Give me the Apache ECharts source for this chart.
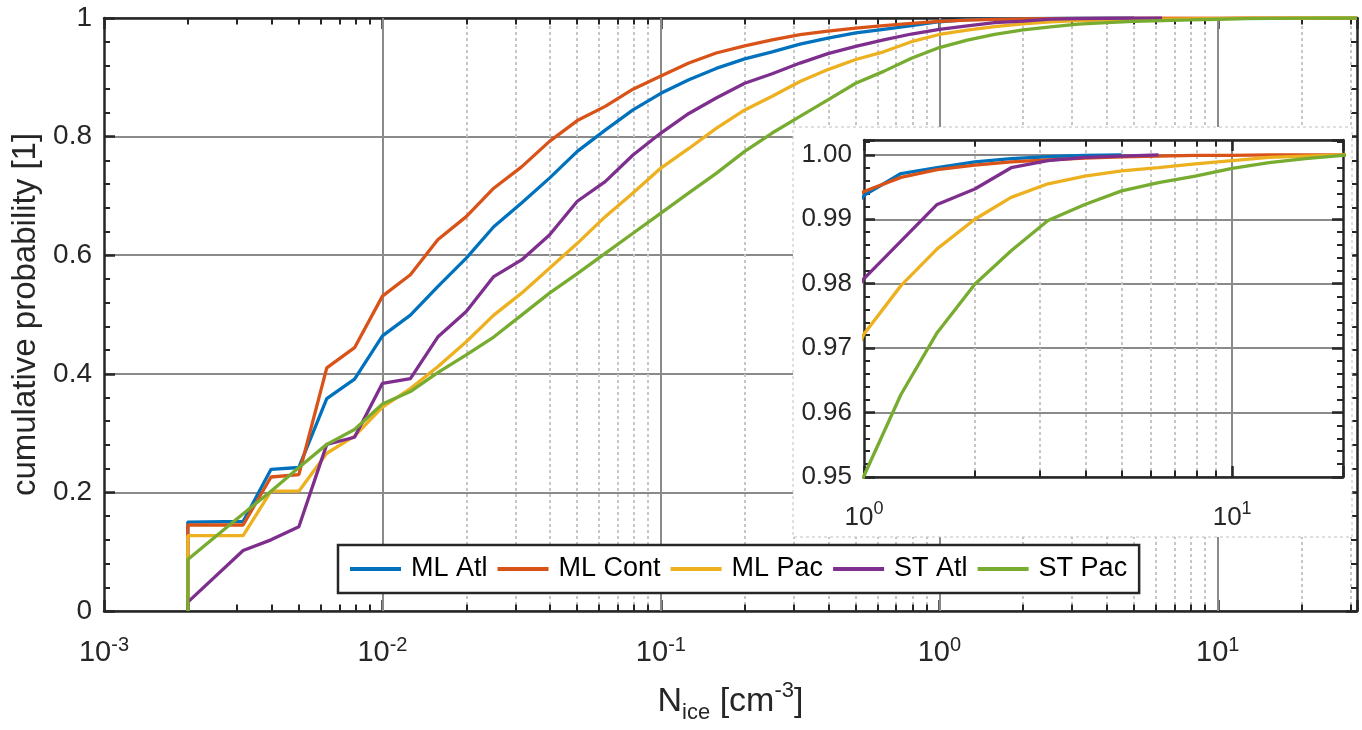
<!DOCTYPE html>
<html>
<head>
<meta charset="utf-8">
<script src="https://cdn.jsdelivr.net/npm/echarts@6/dist/echarts.min.js"></script>
<style>
  html, body { margin: 0; padding: 0; background: #fff; }
  #chart { width: 1362px; height: 730px; }
</style>
</head>
<body>
<div id="chart"></div>
<script>
// N_ice bin positions [cm^-3] (first point doubled: curves rise from 0 at the first bin)
var nIce = [0.002, 0.002, 0.00316, 0.00398, 0.00501, 0.00631, 0.00794,
    0.01, 0.0126, 0.0158, 0.02, 0.0251, 0.0316, 0.0398, 0.0501, 0.0631, 0.0794,
    0.1, 0.126, 0.158, 0.2, 0.251, 0.316, 0.398, 0.501, 0.631, 0.794,
    1, 1.26, 1.58, 2, 2.51, 3.16, 3.98, 5.01, 6.31, 7.94,
    10, 12.6, 15.8, 20, 25.1, 31.6];

var mlAtl = [0, 0.150, 0.151, 0.239, 0.242, 0.358, 0.391,
    0.464, 0.499, 0.547, 0.595, 0.648, 0.688, 0.730, 0.775, 0.811, 0.845,
    0.873, 0.896, 0.915, 0.931, 0.943, 0.956, 0.966, 0.975, 0.981, 0.987,
    0.9937, 0.9971, 0.9980, 0.9989, 0.9994, 0.9997, 0.9999, 1.0, null, null,
    null, null, null, null, null, null];
var mlCont = [0, 0.145, 0.145, 0.226, 0.230, 0.410, 0.444,
    0.531, 0.567, 0.626, 0.665, 0.713, 0.749, 0.792, 0.827, 0.851, 0.880,
    0.902, 0.924, 0.941, 0.953, 0.963, 0.972, 0.978, 0.983, 0.987, 0.991,
    0.9943, 0.9965, 0.9977, 0.9984, 0.9989, 0.9992, 0.9995, 0.9997, 0.9998, 0.9999,
    0.9999, 1.0, 1.0, 1.0, 1.0, 1.0];
var mlPac = [0, 0.127, 0.127, 0.202, 0.202, 0.266, 0.295,
    0.344, 0.375, 0.412, 0.454, 0.499, 0.536, 0.578, 0.620, 0.665, 0.705,
    0.747, 0.780, 0.814, 0.845, 0.868, 0.893, 0.913, 0.930, 0.943, 0.960,
    0.9722, 0.9797, 0.9854, 0.9900, 0.9934, 0.9955, 0.9967, 0.9975, 0.9980, 0.9986,
    0.9991, 0.9996, 0.9998, 1.0, 1.0, 1.0];
var stAtl = [0, 0.015, 0.102, 0.120, 0.142, 0.281, 0.293,
    0.384, 0.392, 0.462, 0.505, 0.564, 0.592, 0.634, 0.691, 0.724, 0.769,
    0.806, 0.839, 0.865, 0.890, 0.906, 0.924, 0.940, 0.952, 0.963, 0.973,
    0.9808, 0.9866, 0.9923, 0.9947, 0.9980, 0.9991, 0.9996, 0.9998, 1.0, null,
    null, null, null, null, null, null];
var stPac = [0, 0.087, 0.164, 0.202, 0.242, 0.281, 0.306,
    0.349, 0.370, 0.402, 0.432, 0.462, 0.499, 0.536, 0.569, 0.603, 0.637,
    0.671, 0.705, 0.738, 0.775, 0.806, 0.834, 0.862, 0.890, 0.910, 0.932,
    0.9502, 0.9628, 0.9724, 0.9799, 0.9851, 0.9898, 0.9923, 0.9944, 0.9957, 0.9967,
    0.9979, 0.9988, 0.9994, 0.9999, 1.0, 1.0];

var names = ['ML Atl', 'ML Cont', 'ML Pac', 'ST Atl', 'ST Pac'];
var colors = ['#0072BD', '#D95319', '#EDB120', '#7E2F8E', '#77AC30'];
var groups = [mlAtl, mlCont, mlPac, stAtl, stPac];

// x range of the main panel (log axis), the right edge is cut by the picture
var mainMin = 0.001, mainMax = 31.6227766;
var insetMin = 1, insetMax = 20;
var decades = [0.001, 0.01, 0.1, 1, 10];

// minor log grid positions
var mainMinor = [], insetMinor = [];
decades.forEach(function (d) {
    for (var k = 2; k <= 9; k++) {
        var v = +(k * d).toPrecision(3);
        if (v < mainMax) mainMinor.push(v);
        if (v > insetMin && v < 10) insetMinor.push(v);
    }
});

var FONT = 'Liberation Sans, Arial, Helvetica, sans-serif';
var INK = '#262626';
var GRID = '#8a8a8a';
var DOT = '#c6c6c6';

function pairs(vals) {
    var out = [];
    for (var i = 0; i < nIce.length; i++) {
        if (vals[i] !== null) out.push([nIce[i], vals[i]]);
    }
    return out;
}

function powLabel(v) {
    var e = Math.log10(v);
    var r = Math.round(e);
    if (Math.abs(e - r) > 1e-6) return '';
    return '{b|10}{s|' + r + '}';
}

function logAxis(grid, min, max, pos, labels, size, margin, z) {
    return {
        type: 'log', logBase: 10, gridIndex: grid, min: min, max: max, position: pos, z: z,
        axisLine: {show: true, onZero: false, lineStyle: {color: INK, width: 2.5}},
        axisTick: {show: true, inside: true, length: 11, lineStyle: {color: INK, width: 2.5}},
        splitLine: {show: false},
        axisLabel: {
            show: labels, margin: margin, formatter: powLabel, color: INK, fontFamily: FONT,
            rich: {
                b: {fontSize: size, lineHeight: 36, fontFamily: FONT, color: INK},
                s: {fontSize: Math.round(size * 0.68), lineHeight: 18, verticalAlign: 'top', fontFamily: FONT, color: INK}
            }
        }
    };
}

function valAxis(grid, min, max, step, pos, labels, size, fmt, z) {
    return {
        type: 'value', gridIndex: grid, min: min, max: max, interval: step, position: pos, z: z,
        axisLine: {show: true, onZero: false, lineStyle: {color: INK, width: 2.5}},
        axisTick: {show: true, inside: true, length: 11, lineStyle: {color: INK, width: 2.5}},
        minorTick: {show: true, splitNumber: 5, length: 6, lineStyle: {color: INK, width: 2}},
        splitLine: {show: labels, lineStyle: {color: GRID, width: 2, type: 'solid'}},
        axisLabel: {show: labels, margin: 12, fontSize: size, color: INK, fontFamily: FONT, formatter: fmt}
    };
}

// vertical grid of a log panel: dotted minor lines, solid decade lines, minor ticks
function logGrid(xi, yi, minor, major, y0, y1, tick, z) {
    var ticks = [];
    minor.forEach(function (v) {
        ticks.push([{coord: [v, y0]}, {coord: [v, y0 + tick]}]);
        ticks.push([{coord: [v, y1]}, {coord: [v, y1 - tick]}]);
    });
    function layer(data, style) {
        return {
            type: 'line', xAxisIndex: xi, yAxisIndex: yi, data: [], z: z, silent: true,
            markLine: {
                silent: true, symbol: ['none', 'none'], z: z, animation: false,
                label: {show: false}, lineStyle: style, data: data
            }
        };
    }
    return [
        layer(minor.map(function (v) { return {xAxis: v}; }), {color: DOT, width: 2, type: [3, 3]}),
        layer(major.map(function (v) { return {xAxis: v}; }), {color: GRID, width: 2, type: 'solid'}),
        layer(ticks, {color: INK, width: 2, type: 'solid'})
    ];
}

var series = [];
series = series.concat(logGrid(0, 0, mainMinor, [0.01, 0.1, 1, 10], 0, 1, 0.011, 1));
series = series.concat(logGrid(2, 2, insetMinor, [10], 0.95, 1.0023, 0.001, 11));
groups.forEach(function (g, i) {
    series.push({
        name: names[i], type: 'line', xAxisIndex: 0, yAxisIndex: 0, z: 2,
        showSymbol: false, symbol: 'none', color: colors[i],
        lineStyle: {width: 3.3, color: colors[i]},
        data: pairs(g)
    });
});
groups.forEach(function (g, i) {
    series.push({
        name: names[i], type: 'line', xAxisIndex: 2, yAxisIndex: 2, z: 12,
        showSymbol: false, symbol: 'none', color: colors[i],
        lineStyle: {width: 3.3, color: colors[i]},
        data: pairs(g)
    });
});

var chart = echarts.init(document.getElementById('chart'));
chart.setOption({
    animation: false,
    backgroundColor: '#ffffff',
    textStyle: {fontFamily: FONT},
    grid: [
        {left: 104, top: 18, width: 1253, height: 593},
        {left: 864, top: 140, width: 479, height: 337}
    ],
    graphic: [{
        type: 'rect', z: 10, silent: true,
        shape: {x: 793, y: 127, width: 559, height: 410},
        style: {fill: '#ffffff', stroke: '#c0c0c0', lineWidth: 1, lineDash: [3, 3]}
    }],
    legend: {
        data: names, left: 338, top: 545, orient: 'horizontal',
        icon: 'rect', itemWidth: 51, itemHeight: 4, itemGap: 10,
        padding: [9, 12, 9, 12],
        borderColor: INK, borderWidth: 2.5, backgroundColor: '#ffffff',
        textStyle: {fontSize: 27, lineHeight: 30, color: '#000', fontFamily: FONT, padding: [0, 0, 0, 5]}
    },
    xAxis: [
        Object.assign(logAxis(0, mainMin, mainMax, 'bottom', true, 29, 24, 0), {
            name: 'N{sub|ice} [cm{sup|-3}]', nameLocation: 'middle', nameGap: 69,
            nameTextStyle: {
                fontSize: 34, lineHeight: 44, color: INK, fontFamily: FONT,
                rich: {
                    sub: {fontSize: 22, lineHeight: 22, verticalAlign: 'bottom', color: INK, fontFamily: FONT},
                    sup: {fontSize: 22, lineHeight: 22, verticalAlign: 'top', color: INK, fontFamily: FONT}
                }
            }
        }),
        logAxis(0, mainMin, mainMax, 'top', false, 29, 24, 0),
        logAxis(1, insetMin, insetMax, 'bottom', true, 26, 23, 11),
        logAxis(1, insetMin, insetMax, 'top', false, 26, 23, 11)
    ],
    yAxis: [
        Object.assign(valAxis(0, 0, 1, 0.2, 'left', true, 28, null, 0), {
            name: 'cumulative probability [1]', nameLocation: 'middle', nameGap: 58,
            nameTextStyle: {fontSize: 33, color: INK, fontFamily: FONT}
        }),
        valAxis(0, 0, 1, 0.2, 'right', false, 28, null, 0),
        valAxis(1, 0.95, 1.0023, 0.01, 'left', true, 26, function (v) {
            return v > 1.0001 ? '' : v.toFixed(2);
        }, 11),
        valAxis(1, 0.95, 1.0023, 0.01, 'right', false, 26, null, 11)
    ],
    series: series
});
</script>
</body>
</html>
